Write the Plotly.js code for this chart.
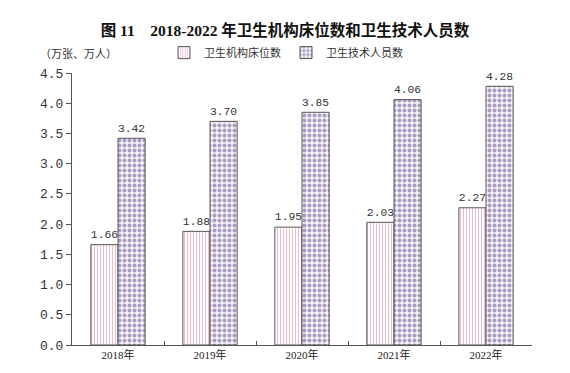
<!DOCTYPE html>
<html><head><meta charset="utf-8">
<script src="https://cdn.plot.ly/plotly-3.0.1.min.js"></script>
<style>html,body{margin:0;padding:0;background:#fff;}#chart{width:570px;height:373px;}</style>
</head><body><div id="chart"></div>
<script>
const years = ['2018年','2019年','2020年','2021年','2022年'];
const beds = [1.66, 1.88, 1.95, 2.03, 2.27];
const staff = [3.42, 3.70, 3.85, 4.06, 4.28];
const seriesNames = ['卫生机构床位数', '卫生技术人员数'];

const monoFont = {family: 'Liberation Mono, DejaVu Sans Mono, monospace', size: 12, color: '#333'};

const traces = [
  {type:'bar', x: years, y: beds, name: seriesNames[0],
   text: beds.map(v => v.toFixed(2)), textposition:'outside', textfont: monoFont, cliponaxis:false,
   marker:{color:'#fff', line:{color:'#555', width:1},
     pattern:{shape:'|', fgcolor:'#f0bccc', bgcolor:'#fff', size:3, solidity:0.35}}},
  {type:'bar', x: years, y: staff, name: seriesNames[1],
   text: staff.map(v => v.toFixed(2)), textposition:'outside', textfont: monoFont, cliponaxis:false,
   marker:{color:'#fff', line:{color:'#555', width:1},
     pattern:{shape:'.', fgcolor:'#a99bc2', bgcolor:'#f6f2fa', size:5, solidity:0.5}}}
];

const layout = {
  width:570, height:373,
  margin:{l:72, r:38, t:73, b:28},
  paper_bgcolor:'#fff', plot_bgcolor:'#fff',
  barmode:'group', bargap:0.41, bargroupgap:0,
  showlegend:true,
  legend:{orientation:'h', x:0.2, xanchor:'left', y:1.075, yanchor:'middle',
    font:{family:'Noto Sans CJK SC', size:11, color:'#333'}, traceorder:'normal', itemwidth:30},
  title:{text:'<b>图 11　2018-2022 年卫生机构床位数和卫生技术人员数</b>', x:0.5, xanchor:'center', y:0.918, yanchor:'middle',
    font:{family:'Liberation Serif, Noto Sans CJK SC', size:15.5, color:'#111'}},
  xaxis:{showline:true, linecolor:'#555', linewidth:1, ticks:'inside', tickson:'boundaries', ticklen:4, tickcolor:'#555',
    tickfont:{family:'Liberation Serif, Noto Sans CJK SC', size:11, color:'#222'}, showgrid:false, zeroline:false},
  yaxis:{range:[0,4.5], dtick:0.5, tickformat:'.1f', showline:true, linecolor:'#555', linewidth:1,
    ticks:'outside', ticklen:5, tickcolor:'#555', showgrid:false, zeroline:false,
    tickfont:{family:'Liberation Mono, DejaVu Sans Mono, monospace', size:13, color:'#333'}},
  annotations:[{text:'（万张、万人）', xref:'paper', yref:'paper', x:-0.075, y:1.075, xanchor:'left', yanchor:'middle',
    showarrow:false, font:{family:'Noto Sans CJK SC', size:11, color:'#333'}}]
};
Plotly.newPlot('chart', traces, layout, {displayModeBar:false});
</script></body></html>
